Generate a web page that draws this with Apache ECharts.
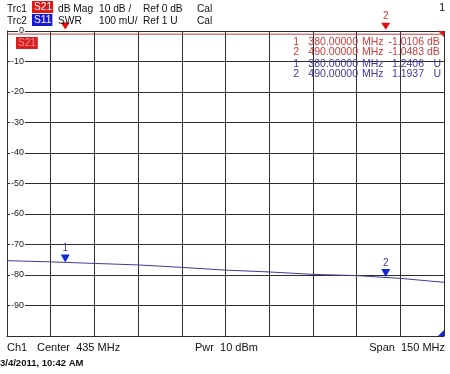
<!DOCTYPE html>
<html><head><meta charset="utf-8">
<script src="https://cdn.jsdelivr.net/npm/echarts@6/dist/echarts.min.js"></script>
<style>html,body{margin:0;padding:0;background:#fff}#c{width:450px;height:374px}</style>
</head><body><div id="c"></div>
<script>
// ---- data ----
const freqs = [360, 375, 390, 405, 420, 435, 450, 465, 480, 495, 510];      // MHz
const s21dB = [-1.00, -1.01, -1.01, -1.02, -1.02, -1.03, -1.03, -1.04, -1.04, -1.05, -1.06];
const s11SWR = [1.247, 1.243, 1.238, 1.233, 1.225, 1.216, 1.210, 1.202, 1.198, 1.189, 1.176];
const markerNames = ['1', '2'];
const markerFreqs = [380, 490];
const markerS21 = [-1.0106, -1.0483];
const markerS11 = [1.2406, 1.1937];
const dbTicks = [0, -10, -20, -30, -40, -50, -60, -70, -80, -90, -100];
const swrRange = [1, 2];
const refLevels = [0, 1];          // Ref 0 dB (S21), Ref 1 U (S11)
const sweepRange = [360, 510];
const powerDBm = [10];

const FONT = "'Liberation Sans', Arial, sans-serif";
const RED = '#c83c3c', BLUE = '#3c3c9c', GRID = '#2e2e2e';

const center = (sweepRange[0] + sweepRange[1]) / 2;
const span = sweepRange[1] - sweepRange[0];

function txt(t, x, y, o) {
  o = o || {};
  return { type: 'text', x: x, y: y, silent: true, z: 100,
    style: Object.assign({ text: t, fill: o.fill || '#111', font: (o.weight || 'normal') + ' ' + (o.size || 10.5) + 'px ' + FONT,
      align: o.align || 'left', verticalAlign: 'middle' }, o.extra || {}) };
}

const T = 10.2;
const graphics = [
  txt('Trc1', 7, 9.5, { size: T }), txt('S21', 32, 7, { size: T, fill: '#fff', extra: { backgroundColor: '#e01818', padding: [1, 1, 1, 2] } }),
  txt('dB Mag', 58, 9.5, { size: T }), txt('10 dB /', 99, 9.5, { size: T }), txt('Ref ' + refLevels[0] + ' dB', 143, 9.5, { size: T }), txt('Cal', 197, 9.5, { size: T }),
  txt('Trc2', 7, 21.5, { size: T }), txt('S11', 32, 20, { size: T, fill: '#fff', extra: { backgroundColor: '#1818d8', padding: [1, 1, 1, 2] } }),
  txt('SWR', 58, 21.5, { size: T }), txt('100 mU/', 99, 21.5, { size: T }), txt('Ref ' + refLevels[1] + ' U', 143, 21.5, { size: T }), txt('Cal', 197, 21.5, { size: T }),
  txt('1', 445, 8, { align: 'right' }),
  txt('S21', 16, 43, { fill: '#f29090', size: 10, extra: { backgroundColor: '#d82020', padding: [1, 2, 1, 2] } }),
  txt('Ch1', 7, 348, { size: 11 }), txt('Center  ' + center + ' MHz', 37, 348, { size: 11 }),
  txt('Pwr  ' + powerDBm[0] + ' dBm', 195, 348, { size: 11 }),
  txt('Span  ' + span + ' MHz', 445, 348, { align: 'right', size: 11 }),
  txt('3/4/2011, 10:42 AM', 0, 363, { weight: 'bold', size: 9.5 })
];
// marker table
const rowsY = [42, 52.5, 64, 74.5];
markerNames.forEach(function (n, i) {
  const y = rowsY[i];
  graphics.push(txt(n, 299, y, { fill: RED, align: 'right' }));
  graphics.push(txt(markerFreqs[i].toFixed(5), 358, y, { fill: RED, align: 'right' }));
  graphics.push(txt('MHz', 362, y, { fill: RED }));
  graphics.push(txt(markerS21[i].toFixed(4), 424, y, { fill: RED, align: 'right' }));
  graphics.push(txt('dB', 427, y, { fill: RED }));
});
markerNames.forEach(function (n, i) {
  const y = rowsY[i + 2];
  graphics.push(txt(n, 299, y, { fill: BLUE, align: 'right' }));
  graphics.push(txt(markerFreqs[i].toFixed(5), 358, y, { fill: BLUE, align: 'right' }));
  graphics.push(txt('MHz', 362, y, { fill: BLUE }));
  graphics.push(txt(markerS11[i].toFixed(4), 424, y, { fill: BLUE, align: 'right' }));
  graphics.push(txt('U', 441, y, { fill: BLUE, align: 'right' }));
});

const chart = echarts.init(document.getElementById('c'), null, { renderer: 'canvas' });
chart.setOption({
  animation: false,
  backgroundColor: '#fff',
  grid: { left: 7, top: 31, width: 437, height: 305, containLabel: false },
  xAxis: {
    type: 'value', min: sweepRange[0], max: sweepRange[1], interval: span / 10,
    axisLabel: { show: false }, axisTick: { show: false },
    axisLine: { show: true, onZero: false, lineStyle: { color: GRID } },
    splitLine: { show: true, lineStyle: { color: GRID, width: 1 } }
  },
  yAxis: [{
    type: 'value', min: dbTicks[dbTicks.length - 1], max: dbTicks[0], interval: 10,
    axisTick: { show: false },
    axisLine: { show: true, onZero: false, lineStyle: { color: GRID } },
    splitLine: { show: true, lineStyle: { color: GRID, width: 1 } },
    axisLabel: {
      inside: true, align: 'right', margin: 18, color: '#222', fontSize: 9, fontFamily: FONT,
      backgroundColor: '#fff', padding: [0, 1, 0, 1],
      formatter: function (v) { return dbTicks.indexOf(v) >= 0 && v !== -100 ? String(v) : ''; }
    }
  }, {
    type: 'value', min: swrRange[0], max: swrRange[1], show: false
  }],
  graphic: graphics,
  series: [{
    name: 'S21', type: 'line', yAxisIndex: 0, showSymbol: false, z: 5,
    data: freqs.map(function (f, i) { return [f, s21dB[i]]; }),
    lineStyle: { color: RED, width: 1 }, itemStyle: { color: RED },
    markPoint: {
      symbol: 'path://M0,0 L10,0 L5,9 Z', symbolSize: [9, 7], symbolOffset: [0, -8],
      itemStyle: { color: '#e01010' },
      label: { show: false },
      data: markerNames.map(function (n, i) {
        return { name: n, coord: [markerFreqs[i], markerS21[i]],
          label: { show: i === 1, position: 'top', distance: 1, formatter: '{b}', color: RED, fontSize: 10, fontFamily: FONT } };
      }).concat([{ name: 'ref', coord: [sweepRange[1], refLevels[0]], symbol: 'path://M0,0 L10,0 L10,10 Z',
        symbolSize: 6, symbolOffset: [-3, 3], label: { show: false } }])
    }
  }, {
    name: 'S11', type: 'line', yAxisIndex: 1, showSymbol: false, z: 5,
    data: freqs.map(function (f, i) { return [f, s11SWR[i]]; }),
    lineStyle: { color: BLUE, width: 1 }, itemStyle: { color: BLUE },
    markPoint: {
      symbol: 'path://M0,0 L10,0 L5,9 Z', symbolSize: [9, 8], symbolOffset: [0, '-50%'],
      itemStyle: { color: '#1428d0' },
      label: { show: true, position: 'top', distance: 1, formatter: '{b}', color: BLUE, fontSize: 10, fontFamily: FONT },
      data: markerNames.map(function (n, i) {
        return { name: n, coord: [markerFreqs[i], markerS11[i]] };
      }).concat([{ name: 'ref', coord: [sweepRange[1], refLevels[1]], symbol: 'path://M10,0 L10,10 L0,10 Z',
        symbolSize: 6, symbolOffset: [-3, -3], label: { show: false } }])
    }
  }]
});
</script></body></html>
